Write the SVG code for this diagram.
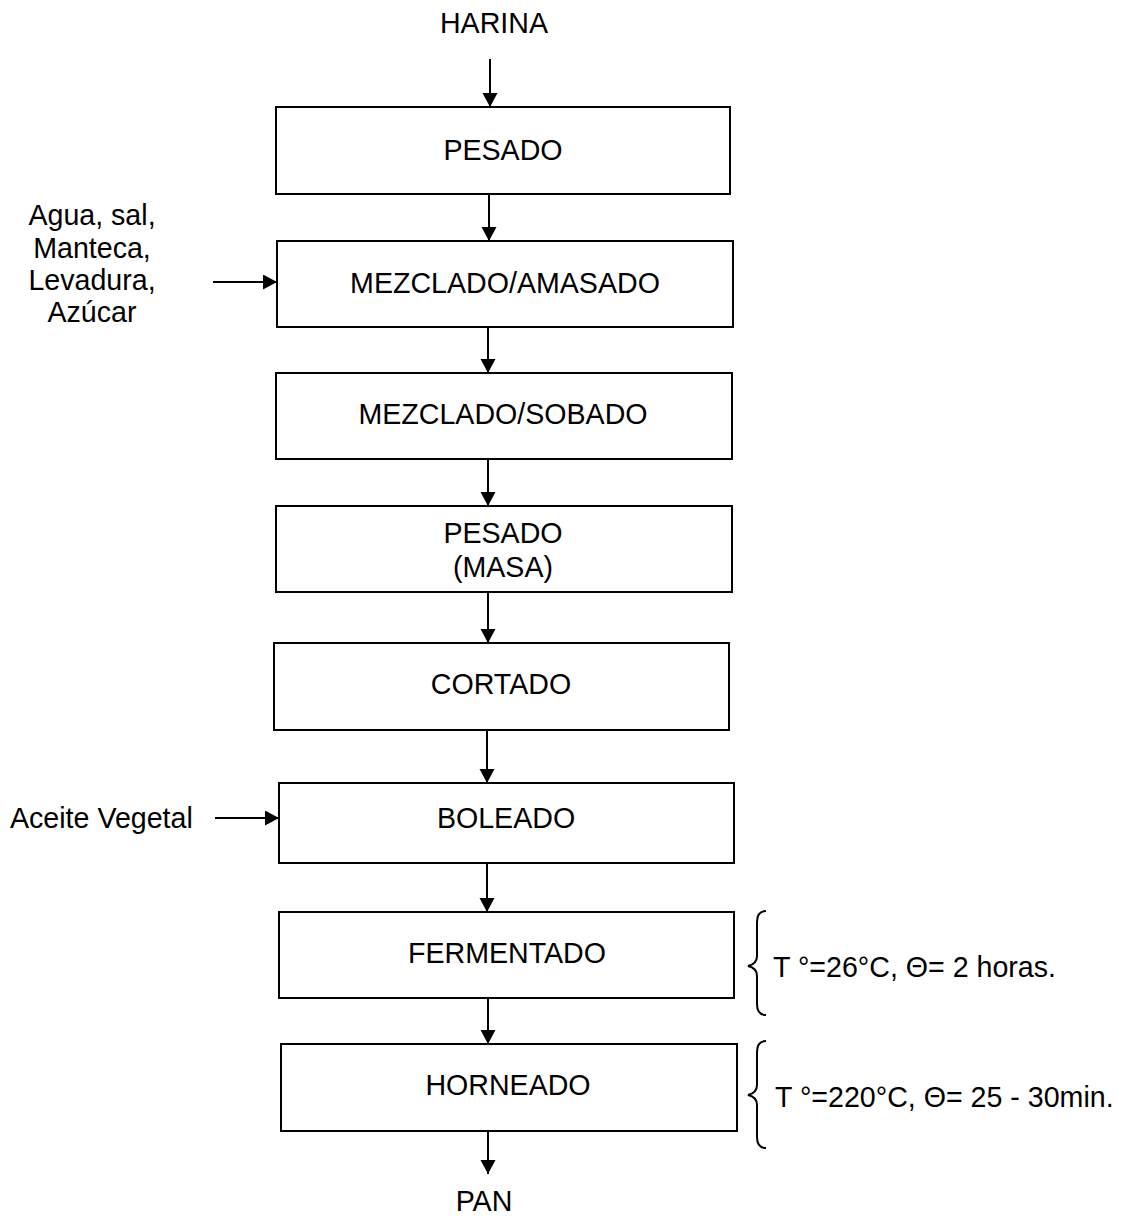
<svg xmlns="http://www.w3.org/2000/svg" width="1130" height="1216" viewBox="0 0 1130 1216">
<style>
.box{fill:#fff;stroke:#000;stroke-width:2}
.t{font-family:"Liberation Sans",Arial,sans-serif;font-size:28.6px;fill:#000}
.c{text-anchor:middle}
.ln{stroke:#000;stroke-width:2;fill:none}
</style>
<defs>
<marker id="ah" markerUnits="userSpaceOnUse" markerWidth="16" markerHeight="16" refX="14" refY="7.5" orient="auto">
<path d="M0,0 L14,7.5 L0,15 z" fill="#000"/>
</marker>
</defs>
<rect width="1130" height="1216" fill="#fff"/>
<g id="harina"><text class="t c" x="494" y="33">HARINA</text></g>
<g id="pesado"><rect class="box" x="276" y="107" width="454" height="87"/><text class="t c" x="503" y="160">PESADO</text></g>
<g id="amasado"><rect class="box" x="277" y="241" width="456" height="86"/><text class="t c" x="505" y="293">MEZCLADO/AMASADO</text></g>
<g id="sobado"><rect class="box" x="276" y="373" width="456" height="86"/><text class="t c" x="503" y="424">MEZCLADO/SOBADO</text></g>
<g id="pesadomasa"><rect class="box" x="276" y="506" width="456" height="86"/><text class="t c" x="503" y="543">PESADO</text><text class="t c" x="503" y="577">(MASA)</text></g>
<g id="cortado"><rect class="box" x="274" y="643" width="455" height="87"/><text class="t c" x="501" y="694">CORTADO</text></g>
<g id="boleado"><rect class="box" x="279" y="783" width="455" height="80"/><text class="t c" x="506" y="828">BOLEADO</text></g>
<g id="fermentado"><rect class="box" x="279" y="912" width="455" height="86"/><text class="t c" x="507" y="963">FERMENTADO</text></g>
<g id="horneado"><rect class="box" x="281" y="1044" width="456" height="87"/><text class="t c" x="508" y="1095">HORNEADO</text></g>
<g id="pan"><text class="t c" x="484" y="1211">PAN</text></g>
<g id="ingredientes"><text class="t c" x="92" y="225">Agua, sal,</text><text class="t c" x="92" y="258">Manteca,</text><text class="t c" x="92" y="290">Levadura,</text><text class="t c" x="92" y="322">Azúcar</text></g>
<g id="aceite"><text class="t" x="10" y="828">Aceite Vegetal</text></g>
<g id="cond1"><path class="ln" d="M766 911 Q757 911 757 922 L757 956 Q757 964 748 966 Q757 968 757 976 L757 1004 Q757 1015 766 1015"/><text class="t" x="773" y="977">T °=26°C, Θ= 2 horas.</text></g>
<g id="cond2"><path class="ln" d="M766 1041 Q757 1041 757 1052 L757 1085 Q757 1093 748 1095 Q757 1097 757 1105 L757 1137 Q757 1148 766 1148"/><text class="t" x="775" y="1107">T °=220°C, Θ= 25 - 30min.</text></g>
<g id="connectors">
<line class="ln" x1="490" y1="59" x2="490" y2="107" marker-end="url(#ah)"/>
<line class="ln" x1="489" y1="194" x2="489" y2="241" marker-end="url(#ah)"/>
<line class="ln" x1="488" y1="327" x2="488" y2="373" marker-end="url(#ah)"/>
<line class="ln" x1="488" y1="459" x2="488" y2="506" marker-end="url(#ah)"/>
<line class="ln" x1="488" y1="592" x2="488" y2="643" marker-end="url(#ah)"/>
<line class="ln" x1="487" y1="730" x2="487" y2="783" marker-end="url(#ah)"/>
<line class="ln" x1="487" y1="863" x2="487" y2="912" marker-end="url(#ah)"/>
<line class="ln" x1="488" y1="998" x2="488" y2="1044" marker-end="url(#ah)"/>
<line class="ln" x1="488" y1="1131" x2="488" y2="1174" marker-end="url(#ah)"/>
<line class="ln" x1="213" y1="282" x2="277" y2="282" marker-end="url(#ah)"/>
<line class="ln" x1="215" y1="818" x2="279" y2="818" marker-end="url(#ah)"/>
</g>
</svg>
